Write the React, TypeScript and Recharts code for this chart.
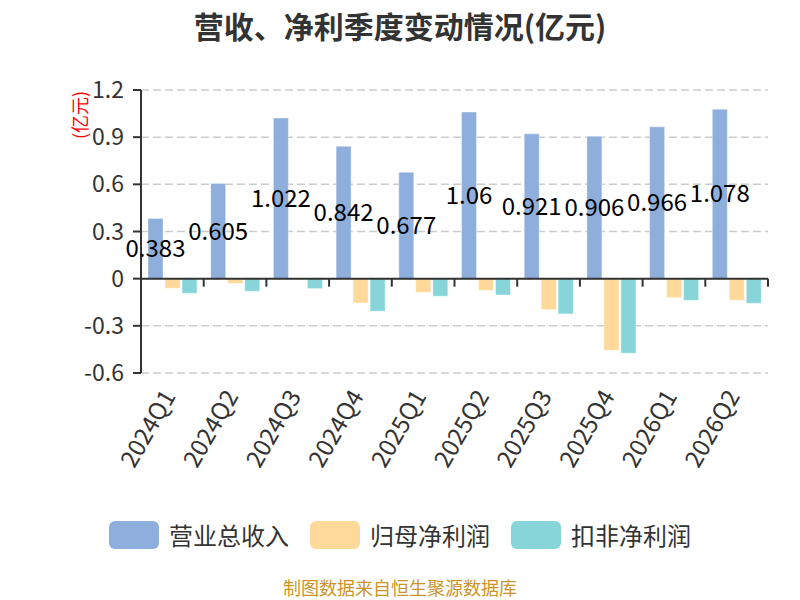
import React from 'react';
import { BarChart, Bar, XAxis, YAxis, CartesianGrid, ReferenceLine, LabelList } from 'recharts';

const quarters = ['2024Q1', '2024Q2', '2024Q3', '2024Q4', '2025Q1', '2025Q2', '2025Q3', '2025Q4', '2026Q1', '2026Q2'];
const revenue = [0.383, 0.605, 1.022, 0.842, 0.677, 1.06, 0.921, 0.906, 0.966, 1.078];
const netProfit = [-0.061, -0.03, -0.005, -0.155, -0.087, -0.074, -0.197, -0.455, -0.121, -0.138];
const deductedProfit = [-0.093, -0.08, -0.063, -0.207, -0.112, -0.104, -0.224, -0.474, -0.138, -0.157];
const yTicks = [-0.6, -0.3, 0, 0.3, 0.6, 0.9, 1.2];

const series = [
  { key: 'revenue', name: '营业总收入', color: '#8eaedb' },
  { key: 'netProfit', name: '归母净利润', color: '#fed99a' },
  { key: 'deductedProfit', name: '扣非净利润', color: '#87d5d9' },
];

const data = quarters.map((q, i) => ({
  quarter: q,
  revenue: revenue[i],
  netProfit: netProfit[i],
  deductedProfit: deductedProfit[i],
}));

const FONT = '"Noto Sans CJK SC", "Noto Sans", sans-serif';

const QuarterTick = (props: any) => {
  const { x, y, payload } = props;
  const ax = x - 5;
  const ay = y + 10;
  return (
    <text
      x={ax}
      y={ay}
      transform={`rotate(-60 ${ax} ${ay})`}
      textAnchor="end"
      dominantBaseline="central"
      fill="#333"
      fontSize={24}
    >
      {payload.value}
    </text>
  );
};

// zero line with the category boundary ticks hanging from it
const ZeroLine = (props: any) => {
  const { x1, y1, x2 } = props;
  const step = (x2 - x1) / quarters.length;
  return (
    <g>
      <line x1={x1} y1={y1} x2={x2} y2={y1} stroke="#333" strokeWidth={2} />
      {quarters.concat(['']).map((_, i) => (
        <line key={i} x1={x1 + i * step} y1={y1} x2={x1 + i * step} y2={y1 + 8} stroke="#333" strokeWidth={2} />
      ))}
    </g>
  );
};

export default function App() {
  return (
    <div style={{ position: 'absolute', left: 0, top: 0, width: 800, height: 600, background: '#fff', fontFamily: FONT }}>
      <BarChart
        width={800}
        height={600}
        data={data}
        margin={{ top: 90, right: 32, left: 0, bottom: 147 }}
        barSize={15}
        barGap={2}
      >
        <CartesianGrid vertical={false} stroke="#ccc" strokeWidth={1.5} strokeDasharray="8 4" />
        <XAxis
          dataKey="quarter"
          interval={0}
          height={80}
          tickLine={false}
          axisLine={false}
          tick={<QuarterTick />}
        />
        <YAxis
          width={141}
          domain={[-0.6, 1.2]}
          ticks={yTicks}
          interval={0}
          allowDataOverflow
          stroke="#333"
          axisLine={{ stroke: '#333', strokeWidth: 2 }}
          tickLine={{ stroke: '#333', strokeWidth: 2 }}
          tickSize={8}
          tickMargin={9}
          tick={{ fill: '#333', fontSize: 23 }}
        />
        {series.map((s) => (
          <Bar
            key={s.key}
            dataKey={s.key}
            name={s.name}
            fill={s.color}
            stroke="#ffffff"
            strokeOpacity={0.4}
            isAnimationActive={false}
          >
            {s.key === 'revenue' && (
              <LabelList dataKey="revenue" position="center" fill="#000" fontSize={24} />
            )}
          </Bar>
        ))}
        <ReferenceLine y={0} shape={<ZeroLine />} />
      </BarChart>

      <svg width={800} height={600} style={{ position: 'absolute', left: 0, top: 0, pointerEvents: 'none' }}>
        <text x={400} y={25} textAnchor="middle" dominantBaseline="central" fontSize={30} fontWeight="bold" fill="#333">
          营收、净利季度变动情况(亿元)
        </text>
        <text
          x={79}
          y={115}
          transform="rotate(-90 79 115)"
          textAnchor="middle"
          dominantBaseline="central"
          fontSize={18}
          fill="#ff0000"
        >
          (亿元)
        </text>
        <text x={400} y={587} textAnchor="middle" dominantBaseline="central" fontSize={18} fill="#c9952b">
          制图数据来自恒生聚源数据库
        </text>
      </svg>

      <div
        style={{
          position: 'absolute',
          left: 0,
          top: 521,
          width: 800,
          height: 28,
          display: 'flex',
          justifyContent: 'center',
          alignItems: 'center',
          gap: 21,
        }}
      >
        {series.map((s) => (
          <div key={s.key} style={{ display: 'flex', alignItems: 'center' }}>
            <div style={{ width: 50, height: 28, borderRadius: 6, background: s.color, marginRight: 10 }} />
            <span style={{ fontSize: 24, color: '#333', lineHeight: '28px' }}>{s.name}</span>
          </div>
        ))}
      </div>
    </div>
  );
}
